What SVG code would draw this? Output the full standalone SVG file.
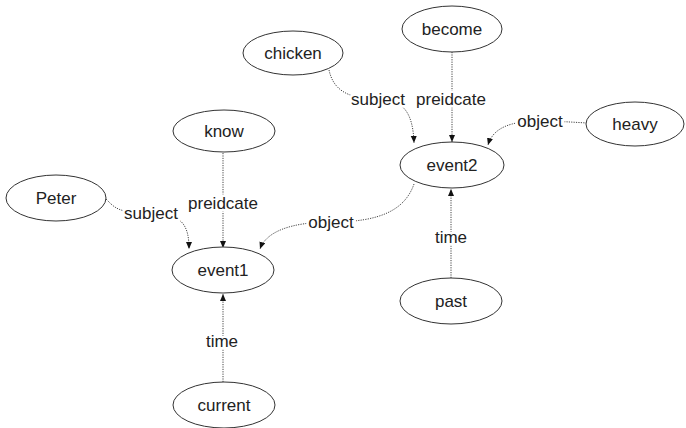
<svg xmlns="http://www.w3.org/2000/svg" width="686" height="428" viewBox="0 0 686 428">
<style>
.n ellipse{fill:#fff;stroke:#333;stroke-width:1}
.n text{font-family:"Liberation Sans",Arial,sans-serif;font-size:17px;fill:#222;text-anchor:middle;dominant-baseline:central}
.e path{fill:none;stroke:#444;stroke-width:1;stroke-dasharray:1.2 1.2}
.lbl{font-family:"Liberation Sans",Arial,sans-serif;font-size:17px;fill:#222;text-anchor:middle;dominant-baseline:central;stroke:#fff;stroke-width:5;paint-order:stroke}
</style>
<defs>
<marker id="arr" markerUnits="userSpaceOnUse" markerWidth="8" markerHeight="7" refX="7" refY="3" orient="auto">
<path d="M0,0 L7,3 L0,6 z" fill="#111"/>
</marker>
</defs>
<rect width="686" height="428" fill="#fff"/>
<g id="connectors" class="e">
<path marker-end="url(#arr)" d="M106,199 C115,208 118,213 150,213 C182,213 189,225 189,249"/>
<path marker-end="url(#arr)" d="M223,153 L223,248"/>
<path marker-end="url(#arr)" d="M414,184 C405,210 380,222 332,222 C290,222 266,232 260,249"/>
<path marker-end="url(#arr)" d="M329,70 C333,88 345,99 378,99 C405,99 413,115 414,143"/>
<path marker-end="url(#arr)" d="M452,52 L452,142"/>
<path marker-end="url(#arr)" d="M587,123 C570,122 555,121 540,121 C510,121 493,128 488,145"/>
<path marker-end="url(#arr)" d="M451,278 L451,189"/>
<path marker-end="url(#arr)" d="M223,382 L223,294"/>
<text class="lbl" x="151" y="213">subject</text>
<text class="lbl" x="223" y="203">preidcate</text>
<text class="lbl" x="331" y="222">object</text>
<text class="lbl" x="378" y="99">subject</text>
<text class="lbl" x="451" y="99">preidcate</text>
<text class="lbl" x="540" y="121">object</text>
<text class="lbl" x="451" y="237">time</text>
<text class="lbl" x="222" y="341">time</text>
</g>
<g id="chicken" class="n"><ellipse cx="293" cy="53" rx="50" ry="22"/><text x="293" y="53">chicken</text></g>
<g id="become" class="n"><ellipse cx="452" cy="29" rx="50" ry="23"/><text x="452" y="29">become</text></g>
<g id="heavy" class="n"><ellipse cx="635" cy="124" rx="49" ry="22"/><text x="635" y="124">heavy</text></g>
<g id="event2" class="n"><ellipse cx="452" cy="165" rx="52" ry="23"/><text x="452" y="165">event2</text></g>
<g id="know" class="n"><ellipse cx="224" cy="131" rx="51" ry="21"/><text x="224" y="131">know</text></g>
<g id="Peter" class="n"><ellipse cx="56" cy="198" rx="50" ry="23"/><text x="56" y="198">Peter</text></g>
<g id="event1" class="n"><ellipse cx="223" cy="270" rx="51" ry="23"/><text x="223" y="270">event1</text></g>
<g id="past" class="n"><ellipse cx="451" cy="301" rx="51" ry="23"/><text x="451" y="301">past</text></g>
<g id="current" class="n"><ellipse cx="224" cy="405" rx="51" ry="23"/><text x="224" y="405">current</text></g>
</svg>
